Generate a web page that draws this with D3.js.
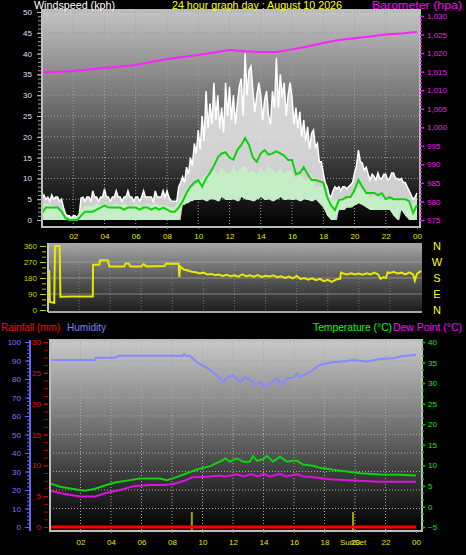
<!DOCTYPE html>
<html><head><meta charset="utf-8">
<script src="https://cdn.jsdelivr.net/npm/d3@7"></script>
<style>
body{margin:0;background:#000;}
svg{display:block;font-family:"Liberation Sans",Arial,sans-serif;}
</style></head><body>
<svg id="c" width="466" height="555"></svg>
<script>
// ---------- DATA ----------
const titleText = "24 hour graph day : August 10 2026";
const hourTickValues = [2,4,6,8,10,12,14,16,18,20,22,24];
const hourTickLabels = ["02","04","06","08","10","12","14","16","18","20","22","00"];

// wind gust, every 7.5 minutes, 00:00 .. 24:00 (kph)
const windGust = [
 5,6,5,5.5,4.5,6,5,5.5,
 5.5,4.5,5,3,1.5,1,1,0.5,
 1,1,0.5,1,5.3,5.5,4.5,5.5,
 5.5,4.5,7,5.5,5.5,4.5,5.5,5.5,
 7.5,5.5,5.5,4.5,5.5,5.5,7,5.5,
 5.5,4.5,5.5,5.5,7,5.5,5.5,4.5,
 5.5,5.5,4.5,5.5,7,5.5,5.5,5.5,
 5.5,4.5,7,5.5,5.5,5.5,7,5.5,
 7,5.5,4.5,4.5,4.5,4.5,8,9,
 10.4,9,12.7,11,15,13,18.4,16,
 21.6,17,25,19,31,22,28,23,
 33,24,30,22,27,21,33,25,
 32,24,30,23,28,32,34,25,
 40,30,36,37,31,26,30,33,
 30,24,29,31,25,23,31,27,
 39,27,35,29.6,33,25,30,33,
 29.6,23,27,22,26,20,24,19,
 22.4,17,20.8,21.6,17.5,18.4,14,14,
 11.3,9,8,6,5.5,7,8,7.5,
 8,7,8,8,7.5,8,8.5,9,
 11.3,13,16.8,14,13.7,12,12.7,11,
 9.6,11,10.5,9.6,11.3,10,10,11,
 11,9.6,10,11.3,11.3,10,10,9.6,
 10,9,9,8,7,6,5,5.5,
 6.5];
// wind speed band and average, every 15 minutes (kph)
const windSpeedHigh = [
 3.5,4,3.5,3.5, 3,2.5,1,0.5, 0.5,1,2.5,3.5, 3.5,3.5,4,3.5, 4,3.5,3.5,4, 3.5,4,3.5,3.5,
 4,3.5,3.5,4, 3.5,4,3.5,3.5, 3.5,3,3,4.5, 6,7.2,8,8, 9,10,11,11,
 12,11,12.7,11.3, 11,13,11.3,12.7, 13,11.3,12,11, 12.7,11.3,13,12, 11.3,12.7,11,12,
 11.3,10,11,9.6, 9.6,11,8,8, 8,6,5,4.8, 5,5.5,4.8,5.5, 6.5,8,7.2,6.5,
 5.5,6,5.5,5, 5.5,5,5.5,5, 5,5.5,4.8,3.5, 5];
const windSpeedLow = [
 0,0,0,0, 0,0,0,0, 0,0,0,0, 0,0,0,0, 0,0,0,0, 0,0,0,0,
 0,0,0,0, 0,0,0,0, 0,0,0,0, 3.6,4,4.5,4.8, 4.8,5,4.5,5,
 5,4.5,5.5,4.8, 4.8,5,4.5,5.5, 5,4.8,4.5,5, 5.5,4.8,5,4.5, 5,5.5,4.8,5,
 4.8,5,4.5,5, 4.8,4.5,5,4, 3,1,0,0, 2.4,2.4,3,3, 3.6,4,3.6,3,
 2.4,2.4,2.4,2.4, 2.4,2.4,1,0, 2.4,1,0,0, 0];
const windAverage = [
 1.7,3,3,3, 3,2,0.5,0, 0,0,1,2, 2,2,2.5,3, 3.5,3,3,3, 3,2.5,3,3,
 3,2.5,3,3, 2.5,3,2.5,3, 2.5,2,2,3, 4.5,6.5,8,9, 9.6,8,10,11.3,
 13,15,16,16.3, 15,14.5,16.8,18, 19.7,18,15,14, 16,16.8,15.7,16, 16.5,16,15.5,14.4,
 14.4,11,11.3,12.7, 11,9.6,9.6,9.3, 9,5.5,3.5,2.4, 4.8,5,5.5,5.5, 7.2,9.6,8,6.5,
 6.5,6.5,6,6.5, 5,5.5,5,5, 5,5,4.5,1.7, 3.6];

// barometer (hpa)
const baroHours = [0,2,4,6,8,10,12,13,14,15,16,17,18,19,20,21,22,23,24];
const baroValues = [1014.8,1015.2,1016,1016.8,1018.4,1019.5,1020.8,1020.5,1020.3,1020.3,1021,1021.8,1022.7,1023.5,1024,1024.5,1025,1025.3,1025.7];

// wind direction (degrees)
const dirHours = [0.08,0.12,0.4,0.45,0.75,0.8,1.5,2.88,2.9,3.3,3.35,3.85,3.95,4.9,5.0,5.2,5.3,6.0,6.15,6.35,7.5,7.6,8.4,8.45,8.5,
 8.75,9.0,9.25,9.5,9.75,10.0,10.25,10.5,10.75,11.0,11.25,11.5,11.75,12.0,12.25,12.5,12.75,13.0,13.25,13.5,13.75,14.0,14.25,14.5,14.75,
 15.0,15.25,15.5,15.75,16.0,16.25,16.5,16.75,17.0,17.25,17.5,17.75,18.0,18.25,18.5,18.75,18.8,18.85,19.0,19.25,19.5,19.75,20.0,20.25,20.5,20.75,
 21.0,21.25,21.4,21.6,21.75,21.85,22.0,22.25,22.5,22.75,23.0,23.25,23.5,23.6,23.75,24.0];
const dirValues = [225,45,40,360,360,75,76,76,255,255,280,280,245,245,262,262,245,245,258,245,248,262,260,185,245,
 228,222,215,212,205,210,200,203,196,200,192,198,190,195,188,200,190,195,188,196,186,192,188,195,185,
 190,180,188,178,192,175,180,170,178,168,175,162,170,158,170,176,176,210,205,200,207,200,205,198,206,200,
 210,200,175,185,180,212,208,215,205,210,200,212,200,165,205,220];
const compassLabels = ["N","W","S","E","N"];

// humidity (%)
const humHours = [0,2.95,3.0,4.26,4.46,8.72,8.79,8.9,9.18,9.64,10.3,10.95,11.34,11.67,12.0,12.46,12.79,13.11,13.44,13.77,14.1,14.43,14.89,15.2,15.54,15.93,16.2,16.39,16.85,17.25,17.7,18.16,18.56,19.48,19.87,20.79,21.64,22.49,23.15,24];
const humValues = [90.3,90.3,91.5,91.5,92.6,92.6,93.5,92.6,92.6,89,86,82,78.5,81,82,78.5,81,79.5,76.8,78.5,75.8,77.5,80.5,76.8,80.5,80.5,83,81,83,85,87.6,88.5,89,89.7,90.3,89.5,90.8,91.2,92.4,93];

// temperature (C)
const tempHours = [0,0.66,1.64,2.3,2.95,3.6,4.26,5.25,5.9,7.2,7.67,8.2,8.85,9.64,10.5,10.95,11.15,11.34,11.48,11.8,12.26,12.66,13.11,13.31,13.57,13.97,14.23,14.62,15.08,15.54,15.93,16.2,16.59,17.25,17.7,18.56,19.48,20.33,21.64,22.95,24];
const tempValues = [5.6,4.8,4.2,3.8,4.3,5.1,5.8,6.4,6.8,6.8,6.4,7.0,7.9,9.0,9.8,10.6,10.9,11.3,11.7,10.9,11.7,10.9,10.9,12.3,11.1,11.5,12.3,10.9,12.1,10.9,11.1,11.1,10.2,9.9,9.4,8.9,8.5,8.1,7.8,7.7,7.5];

// dew point (C)
const dewHours = [0,0.98,1.97,2.95,3.6,4.59,5.57,6.56,7.54,8.2,8.85,9.3,10.3,11.15,11.5,12.26,12.7,13.18,13.6,14.03,14.4,15.08,15.5,16.2,16.6,17.05,18.36,19.87,21.64,24];
const dewValues = [3.8,3.0,2.4,2.4,3.2,4.0,5.0,5.2,5.2,5.6,6.3,7.1,7.2,7.5,7.3,7.8,7.3,7.9,7.3,7.9,7.3,7.9,7.3,7.8,7.3,7.2,6.6,6.3,6.0,6.0];

// rainfall (mm)
const rainHours = [0,6,12,18,24];
const rainValues = [0,0,0,0,0];

const sunEvents = [9.3, 19.87];

// ---------- DRAW ----------
const svg = d3.select("#c");
const defs = svg.append("defs");
function grad(id, stops){
  const g = defs.append("linearGradient").attr("id",id).attr("x1",0).attr("y1",0).attr("x2",0).attr("y2",1);
  stops.forEach(s=>g.append("stop").attr("offset",s[0]).attr("stop-color",s[1]));
}
grad("gTop",[[0,"#c4c4c4"],[0.45,"#6c6c6c"],[0.8,"#262626"],[1,"#000"]]);
grad("gMid",[[0,"#a8a8a8"],[0.5,"#5a5a5a"],[1,"#1c1c1c"]]);
grad("gBot",[[0,"#cacaca"],[0.45,"#727272"],[0.8,"#262626"],[1,"#000"]]);

const yellow = "#e6e600";
function label(x, y, txt, color, len, anchor){
  svg.append("text").attr("x",x).attr("y",y).attr("fill",color).style("font-size","11px")
    .attr("text-anchor",anchor||"start")
    .attr("textLength",len).attr("lengthAdjust","spacingAndGlyphs").text(txt);
}

// ===== TOP PANEL =====
const T = {l:42, r:420, t:10, b:227};
const xTop = d3.scaleLinear().domain([0,24]).range([42,417]);
const yWind = d3.scaleLinear().domain([0,50]).range([220,12]);
const yBaro = d3.scaleLinear().domain([975,1030]).range([220,16]);

svg.append("rect").attr("x",T.l).attr("y",T.t).attr("width",T.r-T.l).attr("height",T.b-T.t).attr("fill","url(#gTop)");
const gTop = svg.append("g");
gTop.selectAll(".hg").data(d3.range(5,51,5)).join("line")
  .attr("x1",T.l).attr("x2",T.r).attr("y1",d=>yWind(d)).attr("y2",d=>yWind(d))
  .attr("stroke","#9a9a9a").attr("stroke-dasharray","1,2").attr("stroke-width",1);
gTop.selectAll(".vg").data(hourTickValues.slice(0,11)).join("line")
  .attr("x1",d=>xTop(d)).attr("x2",d=>xTop(d)).attr("y1",T.t).attr("y2",T.b)
  .attr("stroke","#a0a0a0").attr("stroke-dasharray","1,2");
gTop.append("path").datum(baroHours.map((h,i)=>[h,baroValues[i]]))
  .attr("d",d3.line().x(d=>xTop(d[0])).y(d=>yBaro(d[1])))
  .attr("fill","none").attr("stroke","#ff20ff").attr("stroke-width",2);

const gd = windGust.map((g,i)=>({h:i/8, g, lo:windSpeedLow[Math.floor(i/2)]}));
const wd = windAverage.map((a,i)=>({h:i/4, a, hi:windSpeedHigh[i], lo:windSpeedLow[i]}));
gTop.append("path").datum(gd)
  .attr("d",d3.area().x(d=>xTop(d.h)).y0(d=>yWind(d.lo)).y1(d=>yWind(d.g)))
  .attr("fill","#e2e2e2").attr("fill-opacity",0.9);
gTop.append("path").datum(gd)
  .attr("d",d3.line().x(d=>xTop(d.h)).y(d=>yWind(d.g)))
  .attr("fill","none").attr("stroke","#ffffff").attr("stroke-width",1.5);
gTop.append("path").datum(wd)
  .attr("d",d3.area().x(d=>xTop(d.h)).y0(d=>yWind(d.lo)).y1(d=>yWind(d.hi)))
  .attr("fill","#c6eec6");
gTop.append("path").datum(wd)
  .attr("d",d3.line().x(d=>xTop(d.h)).y(d=>yWind(d.a)))
  .attr("fill","none").attr("stroke","#10d010").attr("stroke-width",2);
svg.append("rect").attr("x",T.l).attr("y",T.t).attr("width",T.r-T.l).attr("height",T.b-T.t)
  .attr("fill","none").attr("stroke","#bdbdbd").attr("stroke-width",2);

const axL1 = svg.append("g").attr("transform",`translate(${T.l-1},0)`)
  .call(d3.axisLeft(yWind).tickValues(d3.range(0,51,1)).tickSize(3).tickFormat(""));
axL1.select(".domain").remove();
axL1.selectAll("line").attr("stroke","#9a9a9a");
const axL = svg.append("g").attr("transform",`translate(${T.l-1},0)`)
  .call(d3.axisLeft(yWind).tickValues(d3.range(0,51,5)).tickSize(4).tickPadding(5));
axL.select(".domain").remove();
axL.selectAll("line").attr("stroke","#c0c0c0");
axL.selectAll("text").attr("fill","#d8e4ff").style("font-size","8px");
const axR1 = svg.append("g").attr("transform",`translate(${T.r},0)`)
  .call(d3.axisRight(yBaro).tickValues(d3.range(975,1031,1)).tickSize(2).tickFormat(""));
axR1.select(".domain").remove();
axR1.selectAll("line").attr("stroke","#d020d0").attr("stroke-width",1.5);
const axR = svg.append("g").attr("transform",`translate(${T.r},0)`)
  .call(d3.axisRight(yBaro).tickValues(d3.range(975,1031,5)).tickSize(4).tickPadding(3));
axR.select(".domain").remove();
axR.selectAll("line").attr("stroke","#e020e0").attr("stroke-width",1.5);
axR.selectAll("text").attr("fill","#f020f0").style("font-size","8px");
const axB = svg.append("g").attr("transform",`translate(0,${T.b})`)
  .call(d3.axisBottom(xTop).tickValues(hourTickValues).tickSize(2).tickPadding(4).tickFormat((d,i)=>hourTickLabels[i]));
axB.select(".domain").remove();
axB.selectAll("line").attr("stroke","#888");
axB.selectAll("text").attr("fill",yellow).style("font-size","8px");

label(34, 9, "Windspeed (kph)", "#ffffff", 81);
label(172, 9, titleText, "#ffff00", 170);
label(372, 9, "Barometer (hpa)", "#ff00ff", 90);

// ===== MIDDLE PANEL =====
const M = {l:48, r:422, t:243, b:312};
const xMid = d3.scaleLinear().domain([0,24]).range([48,421]);
const yDir = d3.scaleLinear().domain([0,360]).range([310,246]);
svg.append("rect").attr("x",M.l).attr("y",M.t).attr("width",M.r-M.l).attr("height",M.b-M.t).attr("fill","url(#gMid)");
svg.append("g").selectAll("line").data([90,180,270]).join("line")
  .attr("x1",M.l).attr("x2",M.r).attr("y1",d=>yDir(d)).attr("y2",d=>yDir(d))
  .attr("stroke","#b0b0b0").attr("stroke-opacity",0.6);
svg.append("g").selectAll("line").data(hourTickValues.slice(0,11)).join("line")
  .attr("x1",d=>xMid(d)).attr("x2",d=>xMid(d)).attr("y1",M.t).attr("y2",M.b)
  .attr("stroke","#a0a0a0").attr("stroke-dasharray","1,2").attr("stroke-opacity",0.6);
svg.append("path").datum(dirHours.map((h,i)=>[h,dirValues[i]]))
  .attr("d",d3.line().x(d=>xMid(d[0])).y(d=>yDir(d[1])))
  .attr("fill","none").attr("stroke","#e8e800").attr("stroke-width",2);
svg.append("line").attr("x1",M.l).attr("x2",M.l).attr("y1",M.t).attr("y2",M.b).attr("stroke","#c8c8c8").attr("stroke-width",2);
svg.append("line").attr("x1",M.l).attr("x2",M.r).attr("y1",M.b).attr("y2",M.b).attr("stroke","#a8a8a8").attr("stroke-width",2);
const axD1 = svg.append("g").attr("transform",`translate(${M.l-2},0)`)
  .call(d3.axisLeft(yDir).tickValues(d3.range(0,361,30)).tickSize(4).tickFormat(""));
axD1.select(".domain").remove();
axD1.selectAll("line").attr("stroke","#b8b800");
const axD = svg.append("g").attr("transform",`translate(${M.l-2},0)`)
  .call(d3.axisLeft(yDir).tickValues([0,90,180,270,360]).tickSize(6).tickPadding(3));
axD.select(".domain").remove();
axD.selectAll("line").attr("stroke","#c8c800");
axD.selectAll("text").attr("fill","#d0d000").style("font-size","8px");
svg.append("g").selectAll("text").data(compassLabels).join("text")
  .attr("x",437).attr("y",(d,i)=>yDir(360-i*90)+4).attr("text-anchor","middle")
  .attr("fill","#ffff00").style("font-size","11px").text(d=>d);

// ===== BOTTOM PANEL =====
const B = {l:50, r:422, t:340, b:531};
const xBot = d3.scaleLinear().domain([0,24]).range([50,416]);
const yHum = d3.scaleLinear().domain([0,100]).range([527,342]);
const yRain = d3.scaleLinear().domain([0,30]).range([527,342]);
const yTemp = d3.scaleLinear().domain([-5,40]).range([527,342]);
label(1, 331, "Rainfall (mm)", "#ff0000", 59);
label(67, 331, "Humidity", "#8080ff", 39);
label(313, 331, "Temperature (°C)", "#00ff00", 79);
label(393, 331, "Dew Point (°C)", "#ff00ff", 69);

svg.append("rect").attr("x",B.l).attr("y",B.t).attr("width",B.r-B.l).attr("height",B.b-B.t).attr("fill","url(#gBot)");
svg.append("g").selectAll("line").data(d3.range(10,101,10)).join("line")
  .attr("x1",B.l).attr("x2",B.r).attr("y1",d=>yHum(d)).attr("y2",d=>yHum(d))
  .attr("stroke","#a8a8a8").attr("stroke-dasharray","1,2");
svg.append("g").selectAll("line").data(hourTickValues.slice(0,11)).join("line")
  .attr("x1",d=>xBot(d)).attr("x2",d=>xBot(d)).attr("y1",B.t).attr("y2",B.b)
  .attr("stroke","#a8a8a8").attr("stroke-dasharray","1,2");
const lineXY = (xs, ys, x, y) => xs.map((h,i)=>[x(h), y(ys[i])]);
svg.append("path").attr("d",d3.line()(lineXY(humHours,humValues,xBot,yHum)))
  .attr("fill","none").attr("stroke","#8888ff").attr("stroke-width",2);
svg.append("path").attr("d",d3.line()(lineXY(tempHours,tempValues,xBot,yTemp)))
  .attr("fill","none").attr("stroke","#10d010").attr("stroke-width",2);
svg.append("path").attr("d",d3.line()(lineXY(dewHours,dewValues,xBot,yTemp)))
  .attr("fill","none").attr("stroke","#e010e0").attr("stroke-width",2);
svg.append("g").selectAll("line").data(sunEvents).join("line")
  .attr("x1",d=>xBot(d)).attr("x2",d=>xBot(d)).attr("y1",512).attr("y2",B.b)
  .attr("stroke","#a0a000").attr("stroke-width",2);
svg.append("path").attr("d",d3.line()(lineXY(rainHours,rainValues,xBot,yRain)))
  .attr("fill","none").attr("stroke","#ff0000").attr("stroke-width",3);
svg.append("rect").attr("x",B.l).attr("y",B.t).attr("width",B.r-B.l).attr("height",B.b-B.t)
  .attr("fill","none").attr("stroke","#bdbdbd").attr("stroke-width",2);

svg.append("line").attr("x1",30).attr("x2",30).attr("y1",B.t).attr("y2",B.b).attr("stroke","#6464ff").attr("stroke-width",2);
const axH1 = svg.append("g").attr("transform","translate(29,0)")
  .call(d3.axisLeft(yHum).tickValues(d3.range(0,101,2)).tickSize(2).tickFormat(""));
axH1.select(".domain").remove(); axH1.selectAll("line").attr("stroke","#6464ff");
const axH = svg.append("g").attr("transform","translate(29,0)")
  .call(d3.axisLeft(yHum).tickValues(d3.range(0,101,10)).tickSize(4).tickPadding(4));
axH.select(".domain").remove(); axH.selectAll("line").attr("stroke","#6464ff");
axH.selectAll("text").attr("fill","#7878ff").style("font-size","8px");
const axRa1 = svg.append("g").attr("transform","translate(48,0)")
  .call(d3.axisLeft(yRain).tickValues(d3.range(0,30.1,1.25)).tickSize(4).tickFormat(""));
axRa1.select(".domain").remove(); axRa1.selectAll("line").attr("stroke","#c00000");
const axRa = svg.append("g").attr("transform","translate(48,0)")
  .call(d3.axisLeft(yRain).tickValues(d3.range(0,31,5)).tickSize(4).tickPadding(3));
axRa.select(".domain").remove(); axRa.selectAll("line").attr("stroke","#e00000");
axRa.selectAll("text").attr("fill","#ff0000").style("font-size","8px");
const axT1 = svg.append("g").attr("transform",`translate(${B.r},0)`)
  .call(d3.axisRight(yTemp).tickValues(d3.range(-5,40.1,5/3)).tickSize(2).tickFormat(""));
axT1.select(".domain").remove(); axT1.selectAll("line").attr("stroke","#00c000").attr("stroke-width",1.5);
const axT = svg.append("g").attr("transform",`translate(${B.r},0)`)
  .call(d3.axisRight(yTemp).tickValues(d3.range(-5,41,5)).tickSize(3).tickPadding(3));
axT.select(".domain").remove(); axT.selectAll("line").attr("stroke","#00d000").attr("stroke-width",1.5);
axT.selectAll("text").attr("fill","#00ee00").style("font-size","8px");
const axXB = svg.append("g").attr("transform",`translate(0,${B.b})`)
  .call(d3.axisBottom(xBot).tickValues(hourTickValues).tickSize(2).tickPadding(6).tickFormat((d,i)=>hourTickLabels[i]));
axXB.select(".domain").remove(); axXB.selectAll("line").attr("stroke","#888");
axXB.selectAll("text").attr("fill",yellow).style("font-size","8px");
svg.append("text").attr("x",xBot(sunEvents[1])).attr("y",545).attr("text-anchor","middle")
  .attr("fill",yellow).style("font-size","8px").text("SunSet");
</script>
</body></html>
